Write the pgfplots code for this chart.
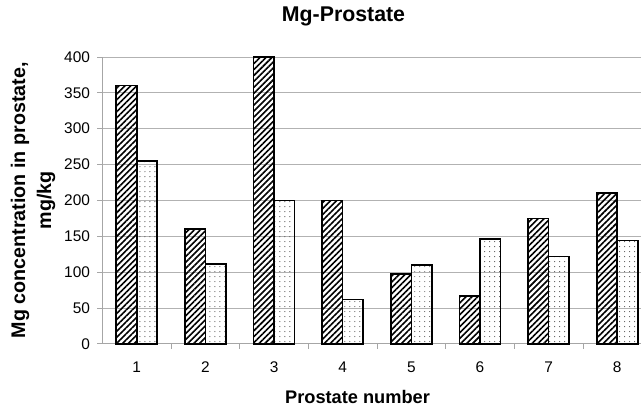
\documentclass[border=0pt]{standalone}
\usepackage{pgfplots}
\pgfplotsset{compat=1.18}
\usepackage{fontspec}
\setmainfont{Liberation Sans}
\usetikzlibrary{patterns.meta}
\begin{document}
\begin{tikzpicture}[x=1bp,y=1bp]
\begin{axis}[
  at={(0,0)}, anchor=origin,
  scale only axis,
  width=538.5bp, height=287bp,
  xmin=0.5, xmax=8.34,
  ymin=0, ymax=400,
  ytick={0,50,...,400},
  xtick={1,...,8},
  minor xtick={1.5,2.5,...,7.5},
  axis x line*=bottom,
  axis y line*=left,
  axis line style={gray!70, line width=0.8bp},
  tick align=outside,
  major x tick style={draw=none},
  minor x tick style={gray!70, line width=0.8bp},
  major y tick style={gray!70, line width=0.8bp},
  major tick length=5bp, minor tick length=5bp,
  ymajorgrids,
  grid style={gray!60, line width=0.8bp},
  tick label style={font=\fontsize{15.5}{17}\selectfont},
  /pgf/number format/assume math mode=true,
  yticklabel style={xshift=-4bp},
  xticklabel style={anchor=north, text height=11.2bp, text depth=0bp, yshift=-9bp},
  title={\textbf{Mg-Prostate}},
  title style={font=\fontsize{21.4}{24}\selectfont, at={(0.448,1)}, anchor=base, yshift=30bp},
  xlabel={\textbf{Prostate number}},
  xlabel style={font=\fontsize{18.3}{21}\selectfont, at={(0.474,0)}, anchor=base, yshift=-59.3bp},
  ylabel={\textbf{Mg concentration in prostate,}\\\textbf{mg/kg}},
  ylabel style={font=\fontsize{19.8}{26}\selectfont, align=center, at={(-0.129,0.5)}, anchor=center, rotate=0},
  ybar, bar width=20.5bp,
  every axis plot/.append style={draw=black, line width=1.6bp},
  clip=false,
]
\addplot[bar shift=-10.25bp, pattern={Lines[angle=45,distance=4.2bp,line width=1.6bp]}, pattern color=black]
  coordinates {(1,360) (2,160) (3,400) (4,200) (5,97) (6,67) (7,175) (8,210)};
\addplot[bar shift=10.25bp, pattern={Dots[distance=5bp,radius=0.6bp]}, pattern color=black!65]
  coordinates {(1,255) (2,111) (3,200) (4,62) (5,110) (6,146) (7,122) (8,144)};
\end{axis}
\path[use as bounding box] (-102.5bp,-62bp) rectangle (538.5bp,344bp);
\end{tikzpicture}
\end{document}
